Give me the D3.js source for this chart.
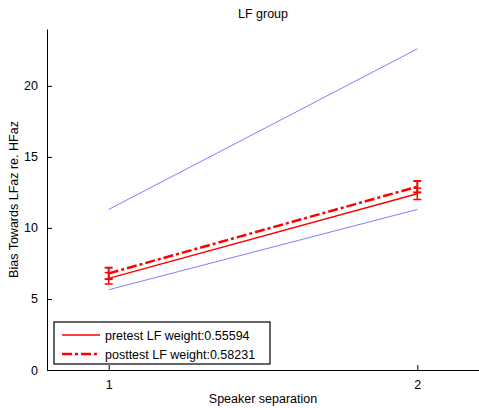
<!DOCTYPE html>
<html>
<head>
<meta charset="utf-8">
<script src="https://cdn.jsdelivr.net/npm/d3@7"></script>
<style>
  body { margin: 0; background: #fff; }
  svg { font-family: "Liberation Sans", Arial, sans-serif; }
</style>
</head>
<body>
<svg id="chart" width="479" height="408"></svg>
<script>
const separations = [1, 2];
const upperBound = [11.3, 22.6];
const lowerBound = [5.65, 11.3];
const pretest = [6.45, 12.4];
const pretestErr = [0.4, 0.4];
const posttest = [6.8, 12.9];
const posttestErr = [0.4, 0.4];
const yTicks = [0, 5, 10, 15, 20];
const legendLabels = ["pretest LF weight:0.55594", "posttest LF weight:0.58231"];

const fs = 12.5;
const svg = d3.select("#chart");
const margin = { top: 29, right: 0, bottom: 38, left: 47 };
const width = 479 - margin.left - margin.right;
const height = 408 - margin.top - margin.bottom;

const g = svg.append("g").attr("transform", `translate(${margin.left},${margin.top})`);

const x = d3.scaleLinear().domain([0.8, 2.2]).range([0, width]);
const y = d3.scaleLinear().domain([0, 24]).range([height, 0]);

// axes, ticks pointing inward
g.append("g")
  .attr("transform", `translate(0,${height})`)
  .call(d3.axisBottom(x).tickValues(separations).tickFormat(d3.format("d")).tickSizeInner(-5).tickSizeOuter(0).tickPadding(10))
  .call((a) => a.select(".domain").attr("stroke", "#000"))
  .selectAll("text").attr("font-size", fs).attr("fill", "#000");

g.append("g")
  .call(d3.axisLeft(y).tickValues(yTicks).tickSizeInner(-5).tickSizeOuter(0).tickPadding(9))
  .call((a) => a.select(".domain").attr("stroke", "#000"))
  .selectAll("text").attr("font-size", fs).attr("fill", "#000");

const line = d3.line().x((d) => x(d[0])).y((d) => y(d[1]));
const pts = (vals) => separations.map((s, i) => [s, vals[i]]);

g.append("path").attr("d", line(pts(upperBound))).attr("fill", "none").attr("stroke", "#8080ff").attr("stroke-width", 1);
g.append("path").attr("d", line(pts(lowerBound))).attr("fill", "none").attr("stroke", "#8080ff").attr("stroke-width", 1);

function errorBars(vals, errs, sw) {
  separations.forEach((s, i) => {
    const cx = x(s);
    const y0 = y(vals[i] - errs[i]);
    const y1 = y(vals[i] + errs[i]);
    const eb = g.append("g").attr("stroke", "#ff0000").attr("stroke-width", sw);
    eb.append("line").attr("x1", cx).attr("x2", cx).attr("y1", y0).attr("y2", y1);
    eb.append("line").attr("x1", cx - 4).attr("x2", cx + 4).attr("y1", y0).attr("y2", y0);
    eb.append("line").attr("x1", cx - 4).attr("x2", cx + 4).attr("y1", y1).attr("y2", y1);
  });
}

g.append("path").attr("d", line(pts(pretest))).attr("fill", "none").attr("stroke", "#ff0000").attr("stroke-width", 1.5);
errorBars(pretest, pretestErr, 1.5);
g.append("path").attr("d", line(pts(posttest))).attr("fill", "none").attr("stroke", "#ff0000")
  .attr("stroke-width", 2.5).attr("stroke-dasharray", "10,3,3,3");
errorBars(posttest, posttestErr, 2);

// title and labels
svg.append("text").attr("x", margin.left + width / 2).attr("y", 18).attr("text-anchor", "middle")
  .attr("font-size", fs).text("LF group");
svg.append("text").attr("x", margin.left + width / 2).attr("y", 403).attr("text-anchor", "middle")
  .attr("font-size", fs).text("Speaker separation");
svg.append("text").attr("transform", `translate(18,${margin.top + height / 2}) rotate(-90)`)
  .attr("text-anchor", "middle").attr("font-size", fs).text("Bias Towards LFaz re. HFaz");

// legend
const lg = svg.append("g").attr("transform", "translate(54,322)");
lg.append("rect").attr("width", 216).attr("height", 42).attr("fill", "#fff").attr("stroke", "#000").attr("stroke-width", 1.2);
legendLabels.forEach((lab, i) => {
  const ly = 13 + i * 19;
  const l = lg.append("line").attr("x1", 8).attr("x2", 46).attr("y1", ly).attr("y2", ly).attr("stroke", "#ff0000");
  if (i === 0) l.attr("stroke-width", 1.5);
  else l.attr("stroke-width", 2.5).attr("stroke-dasharray", "10,3,3,3");
  lg.append("text").attr("x", 51).attr("y", ly + 4.5).attr("font-size", fs).text(lab);
});
</script>
</body>
</html>
